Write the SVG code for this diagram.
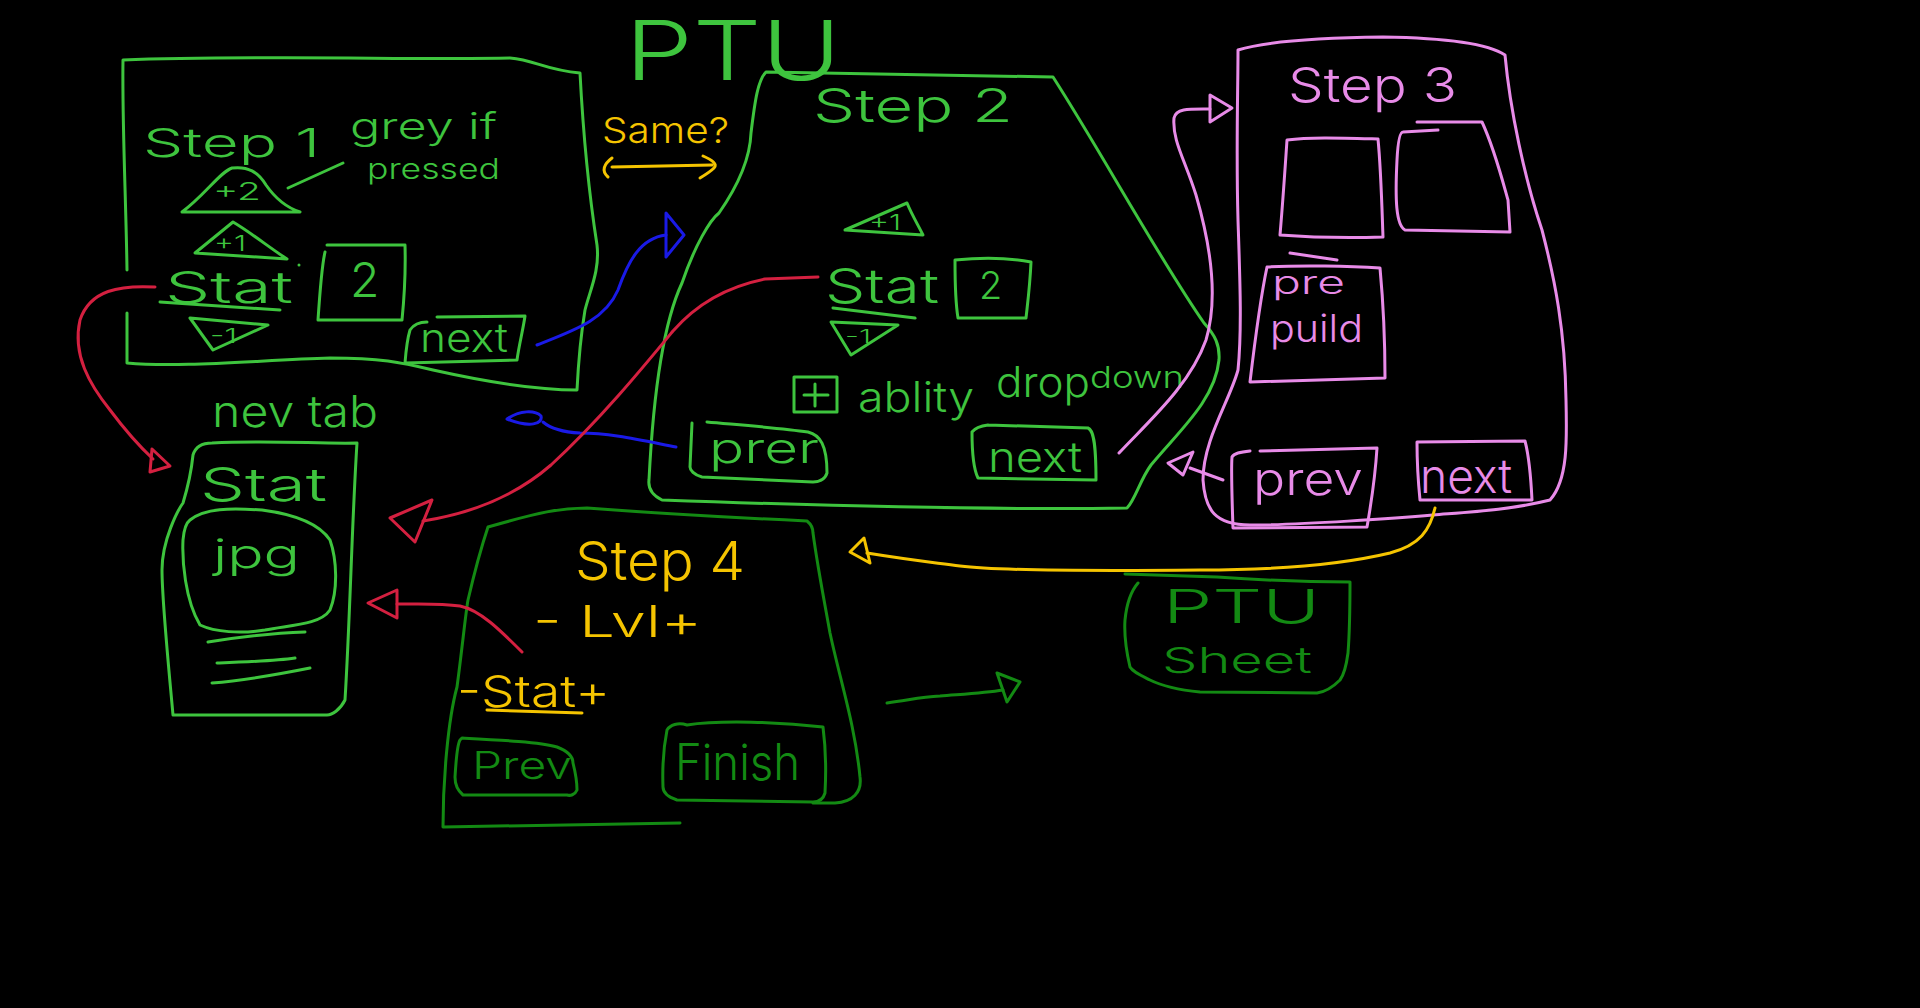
<svg xmlns="http://www.w3.org/2000/svg" width="1920" height="1008" viewBox="0 0 1920 1008">
<style>
.t{font-family:"Inter","Liberation Sans",sans-serif;font-weight:300}
.g{fill:#3ec43e}.dg{fill:#138a13}.y{fill:#f5c400}.p{fill:#e88be8}
.sg,.sdg,.sy,.sp,.sr,.sb{fill:none;stroke-width:3;stroke-linecap:round;stroke-linejoin:round}
.sg{stroke:#3ec43e}.sdg{stroke:#138a13}.sy{stroke:#f5c400}.sp{stroke:#e88be8}.sr{stroke:#d42040}.sb{stroke:#1a1ae6}
</style>
<rect width="1920" height="1008" fill="#000"/>

<g id="title">
<text class="t g" x="625" y="80" font-size="82" textLength="216" lengthAdjust="spacingAndGlyphs">PTU</text>
</g>

<g id="same-label">
<text class="t y" x="602" y="143" font-size="36" textLength="127" lengthAdjust="spacingAndGlyphs">Same?</text>
</g>

<g id="step1">
<path class="sg" d="M127,270 C126,200 122,120 123,60 C250,55 420,60 510,58 C535,60 545,70 580,73 C583,130 590,200 597,245 C600,270 590,290 585,310 C580,340 578,370 577,390 C545,390 500,385 433,370 C400,362 380,358 330,358 C260,360 180,368 127,363 L127,313"/>
<text class="t g" x="143" y="157" font-size="40" textLength="177" lengthAdjust="spacingAndGlyphs">Step 1</text>
<text class="t g" x="350" y="139" font-size="36" textLength="147" lengthAdjust="spacingAndGlyphs">grey if</text>
<text class="t g" x="367" y="179" font-size="28" textLength="133" lengthAdjust="spacingAndGlyphs">pressed</text>
<path class="sg" d="M288,188 L343,163"/>
<path class="sg" d="M182,212 C205,195 220,172 232,168 C248,166 258,172 266,185 C275,198 285,207 300,212 Z"/>
<text class="t g" x="213" y="200" font-size="24" textLength="48" lengthAdjust="spacingAndGlyphs">+2</text>
<path class="sg" d="M195,253 L233,222 C250,232 270,248 287,259 Z"/>
<text class="t g" x="214" y="251" font-size="22" textLength="32" lengthAdjust="spacingAndGlyphs">+1</text>
<text class="t g" x="165" y="303" font-size="44" textLength="128" lengthAdjust="spacingAndGlyphs">Stat</text>
<path class="sg" d="M160,302 L280,310"/>
<circle cx="299" cy="265" r="1.5" fill="#3ec43e"/>
<path class="sg" d="M327,245 L405,245 C406,280 404,300 402,320 L318,320 C320,290 322,265 325,252"/>
<text class="t g" x="350" y="297" font-size="48">2</text>
<path class="sg" d="M190,318 L268,325 L213,350 Z"/>
<text class="t g" x="210" y="343" font-size="20" textLength="27" lengthAdjust="spacingAndGlyphs">-1</text>
<path class="sg" d="M437,317 L525,316 C523,330 519,345 517,360 L405,363 C406,350 407,340 410,330 C414,324 420,322 427,322"/>
<text class="t g" x="420" y="352" font-size="40" textLength="88" lengthAdjust="spacingAndGlyphs">next</text>
</g>

<g id="new-tab-label">
<text class="t g" x="212" y="427" font-size="44" textLength="166" lengthAdjust="spacingAndGlyphs">nev tab</text>
</g>

<g id="stat-card">
<path class="sg" d="M212,443 C270,440 320,444 357,443 C352,520 350,620 345,700 C340,710 332,715 327,715 L173,715 C168,660 162,600 162,570 C162,540 178,510 183,503 C190,480 192,465 193,455 C196,445 205,443 212,443 Z"/>
<text class="t g" x="200" y="501" font-size="46" textLength="127" lengthAdjust="spacingAndGlyphs">Stat</text>
<path class="sg" d="M190,520 C205,508 230,508 262,510 C300,515 320,525 330,540 C337,560 338,590 330,610 C320,625 290,625 265,630 C240,634 215,632 200,625 C185,600 182,560 183,540 C184,528 186,523 190,520 Z"/>
<text class="t g" x="213" y="568" font-size="40" textLength="87" lengthAdjust="spacingAndGlyphs">jpg</text>
<path class="sg" d="M208,642 C240,637 275,633 305,632"/>
<path class="sg" d="M217,663 C245,662 275,661 295,658"/>
<path class="sg" d="M212,683 C250,680 285,673 310,668"/>
</g>

<g id="step2">
<path class="sg" d="M766,72 C850,74 950,75 1053,77 C1100,150 1160,260 1204,323 C1215,335 1220,345 1219,360 C1215,400 1180,430 1151,465 C1140,480 1135,500 1127,508 C1000,510 800,505 662,500 C652,495 648,488 649,480 C652,420 660,330 682,283 C695,245 710,220 719,213 C735,190 750,160 751,133 C755,100 758,80 766,72 Z"/>
<text class="t g" x="813" y="122" font-size="46" textLength="200" lengthAdjust="spacingAndGlyphs">Step 2</text>
<path class="sg" d="M845,230 L907,203 C912,215 918,225 923,235 Z"/>
<text class="t g" x="869" y="230" font-size="22" textLength="32" lengthAdjust="spacingAndGlyphs">+1</text>
<text class="t g" x="825" y="303" font-size="48" textLength="114" lengthAdjust="spacingAndGlyphs">Stat</text>
<path class="sg" d="M833,308 L915,318"/>
<path class="sg" d="M955,260 C985,257 1010,258 1031,262 C1030,285 1028,300 1026,318 L958,318 C955,300 955,280 955,260 Z"/>
<text class="t g" x="979" y="299" font-size="38">2</text>
<path class="sg" d="M831,322 L898,325 L851,355 Z"/>
<text class="t g" x="845" y="343" font-size="18" textLength="26" lengthAdjust="spacingAndGlyphs">-1</text>
<path class="sg" d="M794,377 L837,377 L837,412 L794,412 Z M815,384 L815,406 M804,395 L828,395"/>
<text class="t g" x="858" y="412" font-size="42"><tspan textLength="116" lengthAdjust="spacingAndGlyphs">ablity</tspan> <tspan x="996" y="397" textLength="94" lengthAdjust="spacingAndGlyphs">drop</tspan><tspan x="1090" y="388" font-size="30" textLength="94" lengthAdjust="spacingAndGlyphs">down</tspan></text>
<path class="sg" d="M707,422 C740,425 780,428 808,432 C820,435 827,445 827,473 C825,480 818,482 813,482 L702,477 C694,475 690,470 690,467 L692,423"/>
<text class="t g" x="709" y="463" font-size="42" textLength="110" lengthAdjust="spacingAndGlyphs">prer</text>
<path class="sg" d="M988,425 L1088,428 C1093,430 1096,440 1096,480 L978,478 C974,470 972,450 972,432 C975,428 980,426 988,425"/>
<text class="t g" x="988" y="472" font-size="42" textLength="94" lengthAdjust="spacingAndGlyphs">next</text>
</g>

<g id="step3">
<path class="sp" d="M1238,50 C1260,43 1300,38 1383,37 C1450,38 1490,45 1505,55 C1510,110 1525,180 1542,230 C1555,280 1565,330 1566,400 C1567,440 1568,480 1550,500 C1510,510 1470,512 1433,515 C1400,518 1300,525 1250,525 C1215,525 1205,510 1203,480 C1203,440 1230,400 1238,370 C1242,330 1240,280 1238,220 C1236,150 1238,90 1238,50 Z"/>
<text class="t p" x="1288" y="102" font-size="48" textLength="169" lengthAdjust="spacingAndGlyphs">Step 3</text>
<path class="sp" d="M1287,140 C1310,137 1340,138 1378,139 C1381,170 1382,210 1383,237 C1350,238 1320,238 1280,235 C1283,200 1285,170 1287,140 Z"/>
<path class="sp" d="M1417,122 L1482,122 C1495,150 1505,190 1508,200 L1510,232 L1405,230 C1396,225 1395,200 1397,160 C1398,140 1400,132 1403,132 L1438,130"/>
<path class="sp" d="M1290,253 L1337,260"/>
<path class="sp" d="M1267,267 C1300,265 1350,266 1380,268 C1383,300 1385,350 1385,378 L1250,382 C1255,340 1260,300 1267,267 Z"/>
<text class="t p" x="1272" y="294" font-size="32" textLength="73" lengthAdjust="spacingAndGlyphs">pre</text>
<text class="t p" x="1270" y="342" font-size="38" textLength="93" lengthAdjust="spacingAndGlyphs">puild</text>
<path class="sp" d="M1260,451 L1377,448 C1375,480 1370,510 1367,527 L1233,528 C1232,500 1231,470 1232,457 C1234,453 1240,452 1250,451"/>
<text class="t p" x="1253" y="495" font-size="46" textLength="110" lengthAdjust="spacingAndGlyphs">prev</text>
<path class="sp" d="M1417,442 L1525,441 C1530,460 1531,480 1532,500 L1420,500 C1418,480 1417,460 1417,442 Z"/>
<text class="t p" x="1420" y="493" font-size="48" textLength="92" lengthAdjust="spacingAndGlyphs">next</text>
</g>

<g id="step4">
<path class="sdg" d="M680,823 L443,827 C443,780 448,720 457,687 C462,650 466,610 468,600 C475,570 482,545 488,527 C540,512 560,508 587,508 C680,515 740,518 807,521 C812,525 813,530 813,533 C818,570 826,610 830,633 C840,680 855,725 860,777 C862,792 853,802 835,803 L813,803"/>
<text class="t y" x="575" y="580" font-size="54" textLength="170" lengthAdjust="spacingAndGlyphs">Step 4</text>
<text class="t y" x="533" y="637" font-size="44" textLength="169" lengthAdjust="spacingAndGlyphs">- Lvl+</text>
<text class="t y" x="457" y="707" font-size="44" textLength="153" lengthAdjust="spacingAndGlyphs">-Stat+</text>
<path class="sy" d="M487,710 L582,713"/>
<path class="sdg" d="M462,738 C500,740 540,742 557,747 C570,752 573,758 573,763 C576,775 577,785 577,790 C575,795 570,796 567,795 L463,795 C457,790 455,785 455,777 C456,760 457,745 460,740 Z"/>
<text class="t dg" x="472" y="779" font-size="38" font-weight="600" textLength="100" lengthAdjust="spacingAndGlyphs">Prev</text>
<path class="sdg" d="M687,725 C720,720 780,722 823,727 C826,750 826,775 825,793 C823,800 818,802 813,802 L677,800 C668,797 663,792 663,787 C662,760 664,745 667,730 C670,725 678,722 687,725"/>
<text class="t dg" x="675" y="780" font-size="50" textLength="125" lengthAdjust="spacingAndGlyphs">Finish</text>
</g>

<g id="ptu-sheet">
<path class="sdg" d="M1125,574 C1160,575 1190,576 1217,577 C1260,580 1310,582 1350,582 C1350,610 1349,640 1348,653 C1346,668 1343,676 1340,680 C1332,688 1325,692 1317,693 L1200,692 C1180,690 1160,685 1150,680 C1140,675 1133,672 1130,667 C1126,650 1124,635 1125,620 C1127,600 1132,590 1138,583"/>
<text class="t dg" x="1163" y="623" font-size="46" textLength="157" lengthAdjust="spacingAndGlyphs">PTU</text>
<text class="t dg" x="1162" y="673" font-size="36" textLength="150" lengthAdjust="spacingAndGlyphs">Sheet</text>
</g>

<g id="connectors">
<path class="sy" d="M612,158 C604,164 601,171 608,177 M612,167 L712,165 M703,156 C712,160 718,164 714,168 C710,172 705,175 700,178"/>
<path class="sb" d="M537,345 C575,330 605,320 618,290 C628,262 640,238 666,235"/>
<path class="sb" d="M666,213 L684,235 L666,257 Z"/>
<path class="sb" d="M676,447 C640,440 610,433 580,433 C560,432 550,428 543,422"/>
<path class="sb" d="M507,419 C520,410 535,410 541,416 C543,424 530,428 507,419 Z"/>
<path class="sr" d="M155,287 C120,285 90,290 80,320 C72,355 90,385 110,410 C125,430 138,445 153,459"/>
<path class="sr" d="M152,449 L170,466 L150,472 Z"/>
<path class="sr" d="M818,277 L765,279 C735,285 700,300 673,331 C645,365 600,420 551,465 C520,492 480,512 423,521"/>
<path class="sr" d="M390,518 L432,500 L415,542 Z"/>
<path class="sr" d="M522,652 C500,630 480,610 460,606 C440,603 420,604 397,604"/>
<path class="sr" d="M368,603 L397,590 L397,618 Z"/>
<path class="sp" d="M1119,453 C1150,420 1190,385 1206,340 C1218,300 1212,250 1196,195 C1185,160 1172,140 1174,118 C1176,108 1190,109 1210,109"/>
<path class="sp" d="M1210,95 L1232,108 L1210,122 Z"/>
<path class="sp" d="M1223,480 L1190,468"/>
<path class="sp" d="M1168,463 L1193,452 L1183,475 Z"/>
<path class="sy" d="M1435,508 C1430,530 1420,545 1390,553 C1340,565 1270,570 1200,570 C1100,571 1000,571 960,566 C930,562 910,560 867,553"/>
<path class="sy" d="M850,552 L864,538 L870,563 Z"/>
<path class="sdg" d="M887,703 C910,700 920,697 940,696 C965,694 985,693 1003,690"/>
<path class="sdg" d="M997,673 L1020,682 L1007,702 Z"/>
</g>
</svg>
